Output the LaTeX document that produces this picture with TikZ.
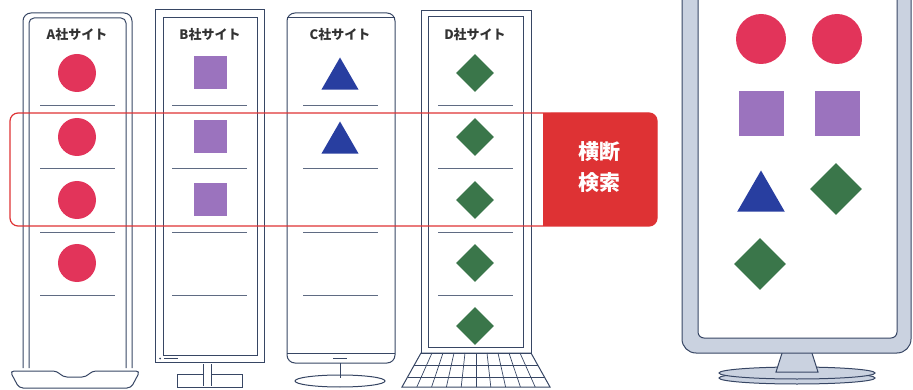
\documentclass[tikz,border=0pt]{standalone}
\usepackage{fontspec}
\setmainfont{Noto Sans CJK JP}
\usetikzlibrary{shapes.geometric}
\definecolor{pinkred}{RGB}{226,52,90}
\definecolor{lilac}{RGB}{155,115,190}
\definecolor{navyblue}{RGB}{40,62,160}
\definecolor{leaf}{RGB}{58,118,74}
\definecolor{searchred}{RGB}{222,50,52}
\definecolor{frame}{RGB}{55,70,100}
\definecolor{bezel}{RGB}{202,210,224}

\begin{document}
\begin{tikzpicture}[
  x=1pt, y=-1pt,
  line width=0.9,
  dev/.style={draw=frame, line width=1},
  sep/.style={draw=frame!80, line width=0.6},
  site/.style={font=\bfseries\fontsize{13}{15}\selectfont, text=black!80},
  ball/.style={circle, fill=pinkred, inner sep=0, minimum size=#1},
  ball/.default=38,
  box/.style={rectangle, fill=lilac, inner sep=0, minimum size=#1},
  box/.default=33,
  tri/.style={regular polygon, regular polygon sides=3, fill=navyblue, inner sep=0, minimum size=#1},
  tri/.default=43,
  gem/.style={diamond, fill=leaf, inner sep=0, minimum size=#1},
  gem/.default=38,
]
\useasboundingbox (0,0) rectangle (913,390);
\clip (0,0) rectangle (913,390);

% A社
\draw[dev, rounded corners=8] (23,368) -- (23,13) -- (132,13) -- (132,368);
\draw[dev, rounded corners=5] (29,368) -- (29,18) -- (126,18) -- (126,368);
\draw[dev, rounded corners=4] (10,371) -- (57,371) -- (63,377) -- (86,377) -- (92,371)
  -- (140,371) -- (131,388) -- (19,388) -- cycle;
\node[site] (la) at (77,35) {A社サイト};
\foreach \i/\y in {1/73,2/137,3/200,4/263}
  \node[ball] (a\i) at (77,\y) {};

% B社
\draw[dev] (155,10) rectangle (264,362);
\draw[dev] (163,18) rectangle (257,355);
\fill[frame] (160,358.5) circle (1);
\draw[dev, line width=0.6] (164,358.5) -- (178,358.5);
\draw[dev] (203,364) -- (203,386) (211,364) -- (211,386);
\draw[dev] (203,374) -- (177,374) -- (177,387) -- (242,387) -- (242,374) -- (211,374);
\node[site] (lb) at (210,35) {B社サイト};
\foreach \i/\y in {1/73,2/137,3/200}
  \node[box] (b\i) at (210,\y) {};

% C社
\draw[dev, rounded corners=8] (287,13) rectangle (395,363);
\draw[dev] (287,18) -- (395,18) (287,353) -- (395,353);
\draw[dev] (333,358) -- (347,358);
\draw[dev] (340,363) -- (340,378);
\draw[dev] (340,381) ellipse (45 and 6);
\node[site] (lc) at (340,35) {C社サイト};
\foreach \i/\y in {1/79,2/143}
  \node[tri] (c\i) at (340,\y) {};

% D社
\draw[dev] (421,11) rectangle (531,353);
\draw[dev] (428,17) rectangle (523,347);
\draw[dev] (421,353) -- (531,353) -- (550,387) -- (402,387) -- cycle;
\draw[dev, line width=0.7] (414.3,365) -- (537.7,365) (407.5,377) -- (544.5,377);
\foreach \i in {1,...,9}
  \draw[dev, line width=0.7] (421+\i*11,353) -- (402+\i*14.8,387);
\node[site] (ld) at (475,35) {D社サイト};
\foreach \i/\y in {1/73,2/137,3/200,4/263,5/326}
  \node[gem] (d\i) at (475,\y) {};

% 区切り線
\foreach \y in {105,168,232,295} {
  \draw[sep] (40,\y) -- (115,\y);
  \draw[sep] (172,\y) -- (247,\y);
  \draw[sep] (303,\y) -- (378,\y);
  \draw[sep] (438,\y) -- (513,\y);
}

% 横断検索
\draw[searchred, line width=1.2, rounded corners=8] (10,113) rectangle (657,226);
\fill[searchred, rounded corners=8] (543,113) rectangle (657,226);
\fill[searchred] (543,113) rectangle (560,226);
\node[text=white, font=\bfseries\fontsize{21}{31}\selectfont, align=center] (search) at (599,167) {横断\\検索};

% モニター
\draw[dev, fill=bezel] (797,378) ellipse (78 and 6);
\draw[dev, fill=bezel] (797,373) ellipse (78 and 6);
\draw[dev, fill=bezel] (783,350) -- (776,372) -- (818,372) -- (811,350);
\draw[dev, fill=bezel, rounded corners=14] (682,-20) rectangle (911,353);
\draw[dev, fill=white, rounded corners=6] (698,-20) rectangle (897,338);
\node[ball=50] (m1) at (761,39) {};
\node[ball=50] (m2) at (837,39) {};
\node[box=45] (m3) at (761,114) {};
\node[box=45] (m4) at (837,114) {};
\node[tri=55] (m5) at (761,198) {};
\node[gem=52] (m6) at (836,189) {};
\node[gem=52] (m7) at (760,264) {};
\end{tikzpicture}
\end{document}
